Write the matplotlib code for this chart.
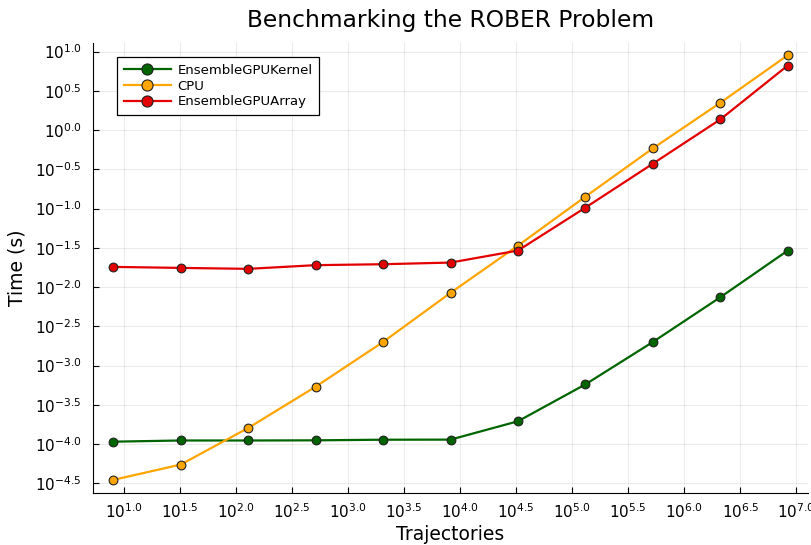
import numpy as np
import matplotlib
matplotlib.use("Agg")
import matplotlib.pyplot as plt
from matplotlib.ticker import FixedLocator, FuncFormatter

# Number of trajectories (powers of 4 starting at 8)
trajectories = [8, 32, 128, 512, 2048, 8192, 32768, 131072, 524288, 2097152, 8388608]

# log10 of runtime in seconds
log_gpu_kernel = [-3.97, -3.955, -3.955, -3.953, -3.945, -3.944, -3.71, -3.24, -2.70, -2.13, -1.535]
log_cpu = [-4.457, -4.262, -3.796, -3.27, -2.70, -2.074, -1.472, -0.848, -0.233, 0.348, 0.954]
log_gpu_array = [-1.743, -1.756, -1.768, -1.721, -1.709, -1.688, -1.535, -0.988, -0.428, 0.136, 0.823]

series = [
    ("EnsembleGPUKernel", log_gpu_kernel, "#006400"),
    ("CPU", log_cpu, "#FFA500"),
    ("EnsembleGPUArray", log_gpu_array, "#E30000"),
]

x_exps = [1.0, 1.5, 2.0, 2.5, 3.0, 3.5, 4.0, 4.5, 5.0, 5.5, 6.0, 6.5, 7.0]
y_exps = [1.0, 0.5, 0.0, -0.5, -1.0, -1.5, -2.0, -2.5, -3.0, -3.5, -4.0, -4.5]

fig = plt.figure(figsize=(8.12, 5.45), dpi=100)
ax = fig.add_axes([0.1145, 0.096, 0.8805, 0.826])

for name, vals, col in series:
    ax.plot(trajectories, 10 ** np.array(vals), color=col, lw=1.6, marker="o",
            markersize=6.3, markerfacecolor=col, markeredgecolor="#222222",
            markeredgewidth=0.8, label=name)

ax.set_xscale("log")
ax.set_yscale("log")
ax.set_xlim(10 ** 0.722, 10 ** 7.104)
ax.set_ylim(10 ** -4.62, 10 ** 1.116)

fmt = FuncFormatter(lambda v, p: r"$10^{%.1f}$" % np.log10(v))
ax.xaxis.set_major_locator(FixedLocator([10 ** e for e in x_exps]))
ax.yaxis.set_major_locator(FixedLocator([10 ** e for e in y_exps]))
ax.xaxis.set_minor_locator(FixedLocator([]))
ax.yaxis.set_minor_locator(FixedLocator([]))
ax.xaxis.set_major_formatter(fmt)
ax.yaxis.set_major_formatter(fmt)
ax.tick_params(direction="in", length=4, width=0.8, labelsize=11, color="black")
ax.tick_params(axis="y", pad=8)
ax.tick_params(axis="x", pad=7)

ax.spines["top"].set_visible(False)
ax.spines["right"].set_visible(False)
ax.grid(True, color="#000000", alpha=0.08, lw=0.8)

ax.set_title("Benchmarking the ROBER Problem", fontsize=16.8, pad=11)
ax.set_xlabel("Trajectories", fontsize=13.5, labelpad=3)
ax.set_ylabel("Time (s)", fontsize=13.5, labelpad=6)

leg = ax.legend(loc="upper left", bbox_to_anchor=(0.0335, 0.967), fontsize=9.5,
                fancybox=False, framealpha=1, edgecolor="black",
                handlelength=3.6, borderpad=0.5, labelspacing=0.2,
                handletextpad=0.5, borderaxespad=0)
leg.get_frame().set_linewidth(0.9)
for h in leg.legend_handles:
    h.set_markersize(8)

fig.savefig("out.png", dpi=100)
